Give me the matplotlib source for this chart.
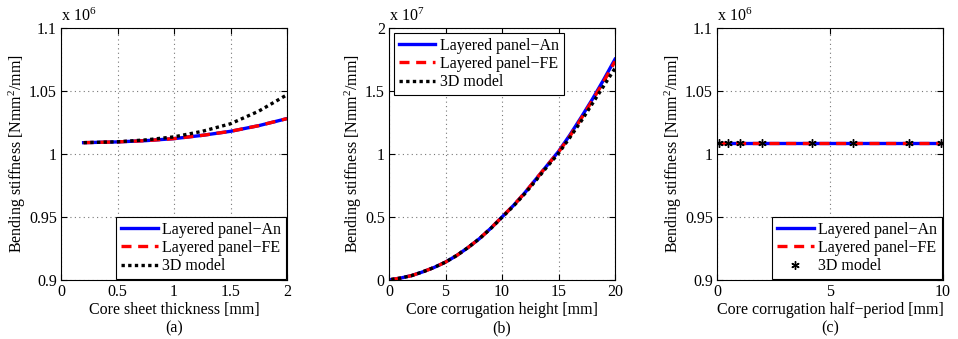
import matplotlib
matplotlib.use("Agg")
import matplotlib.pyplot as plt
from matplotlib.ticker import FuncFormatter

plt.rcParams["font.family"] = ["Liberation Serif", "DejaVu Serif"]
plt.rcParams["mathtext.fontset"] = "custom"
plt.rcParams["mathtext.rm"] = "Liberation Serif"
plt.rcParams["mathtext.it"] = "Liberation Serif:italic"
plt.rcParams["font.size"] = 11

# ---- (a) core sheet thickness, stiffness in 1e6 Nmm^2/mm ----
a_x = [0.2, 0.5, 0.75, 1.0, 1.25, 1.5, 1.75, 2.0]
a_an = [1.0090, 1.0096, 1.0106, 1.0122, 1.0148, 1.0180, 1.0225, 1.0281]
a_fe = [1.0090, 1.0096, 1.0106, 1.0122, 1.0148, 1.0180, 1.0225, 1.0281]
a_3d = [1.0090, 1.0097, 1.0112, 1.0136, 1.0180, 1.0240, 1.0340, 1.0470]

# ---- (b) core corrugation height, stiffness in 1e7 Nmm^2/mm ----
b_x = [0.2, 1, 2, 3, 4, 5, 6, 7, 8, 9, 10, 11, 12, 13, 14, 15, 16, 17, 18, 19, 20]
b_an = [0.004, 0.015, 0.035, 0.065, 0.100, 0.142, 0.195, 0.258, 0.328, 0.410, 0.500,
        0.590, 0.690, 0.800, 0.910, 1.020, 1.150, 1.290, 1.435, 1.590, 1.752]
b_fe = [0.004, 0.015, 0.035, 0.065, 0.100, 0.142, 0.195, 0.258, 0.328, 0.410, 0.500,
        0.590, 0.690, 0.800, 0.910, 1.015, 1.140, 1.280, 1.425, 1.575, 1.735]
b_3d = [0.004, 0.015, 0.035, 0.065, 0.100, 0.142, 0.195, 0.258, 0.328, 0.408, 0.497,
        0.585, 0.683, 0.790, 0.900, 1.005, 1.130, 1.260, 1.400, 1.540, 1.680]

# ---- (c) core corrugation half-period, stiffness in 1e6 Nmm^2/mm ----
c_x = [0.1, 10.0]
c_an = [1.009, 1.009]
c_fe = [1.009, 1.009]
c_3d_x = [0.1, 0.5, 1.0, 2.0, 4.2, 6.0, 8.5, 9.9]
c_3d = [1.009, 1.009, 1.009, 1.009, 1.009, 1.009, 1.009, 1.009]

LAB = ["Layered panel\u2212An", "Layered panel\u2212FE", "3D model"]
YLAB = "Bending stiffness [Nmm$^2$/mm]"

fig = plt.figure(figsize=(9.58, 3.39), dpi=100)
W, H = 958, 339
boxes = [(61, 287), (389, 615), (717, 943)]
top, bot = 28, 280
axes = [fig.add_axes([l / W, 1 - bot / H, (r - l) / W, (bot - top) / H]) for l, r in boxes]

fmt = FuncFormatter(lambda v, p: "%g" % round(v, 6))


def style(ax, xlim, ylim, xt, yt, xlabel, tag, mult):
    ax.set_xlim(xlim); ax.set_ylim(ylim)
    ax.set_xticks(xt); ax.set_yticks(yt)
    ax.xaxis.set_major_formatter(fmt); ax.yaxis.set_major_formatter(fmt)
    ax.tick_params(direction="in", top=True, right=True, length=4, labelsize=11.5, pad=3)
    ax.grid(True, ls=(0, (1, 3)), c="#777777", lw=0.8)
    for s in ax.spines.values():
        s.set_linewidth(0.8)
    ax.set_ylabel(YLAB, fontsize=11.5, labelpad=1)
    ax.set_xlabel(xlabel + "\n" + tag, fontsize=11.5, labelpad=1, linespacing=1.25)
    ax.text(0.0, 1.01, "x 10$^{%d}$" % mult, transform=ax.transAxes, fontsize=11.5,
            ha="left", va="bottom")


def leg(ax, loc, pad):
    l = ax.legend(loc=loc, fontsize=11.5, frameon=True, fancybox=False, handlelength=2.3,
                  borderpad=0.3, labelspacing=0.15, handletextpad=0.3, borderaxespad=pad)
    l.get_frame().set_edgecolor("black"); l.get_frame().set_linewidth(0.8)
    l.get_frame().set_alpha(1)


ax = axes[0]
ax.plot(a_x, a_an, c="blue", lw=2.4, label=LAB[0])
ax.plot(a_x, a_fe, c="red", lw=2.4, ls=(0, (3, 2)), label=LAB[1])
ax.plot(a_x, a_3d, c="black", lw=2.4, ls=(0, (1, 1)), label=LAB[2])
style(ax, (0, 2), (0.9, 1.1), [0, 0.5, 1, 1.5, 2], [0.9, 0.95, 1, 1.05, 1.1],
      "Core sheet thickness [mm]", "(a)", 6)
leg(ax, "lower right", 0.05)

ax = axes[1]
ax.plot(b_x, b_an, c="blue", lw=2.4, label=LAB[0])
ax.plot(b_x, b_fe, c="red", lw=2.4, ls=(0, (3, 2)), label=LAB[1])
ax.plot(b_x, b_3d, c="black", lw=2.4, ls=(0, (1, 1)), label=LAB[2])
style(ax, (0, 20), (0, 2), [0, 5, 10, 15, 20], [0, 0.5, 1, 1.5, 2],
      "Core corrugation height [mm]", "(b)", 7)
leg(ax, "upper left", 0.3)

ax = axes[2]
ax.plot(c_x, c_an, c="blue", lw=2.4, label=LAB[0])
ax.plot(c_x, c_fe, c="red", lw=2.4, ls=(0, (3, 2)), label=LAB[1])
ax.plot(c_3d_x, c_3d, ls="none", marker=(6, 2, 0), ms=6, mew=1.0, c="black", label=LAB[2])
style(ax, (0, 10), (0.9, 1.1), [0, 5, 10], [0.9, 0.95, 1, 1.05, 1.1],
      "Core corrugation half\u2212period [mm]", "(c)", 6)
leg(ax, "lower right", 0.05)

fig.savefig("out.png", dpi=100)
